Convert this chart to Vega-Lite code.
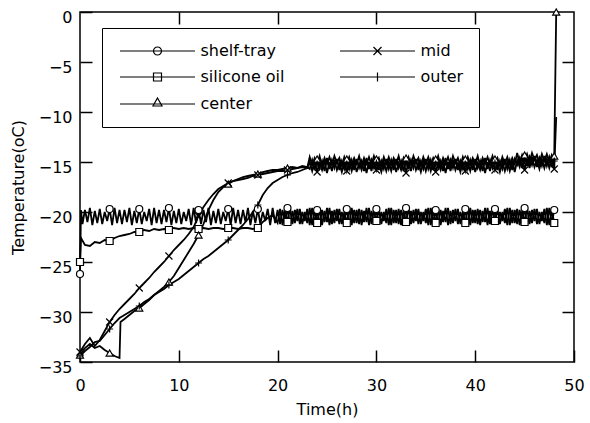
{
"$schema": "https://vega.github.io/schema/vega-lite/v6.json",
"width": 494, "height": 350,
"autosize": "none",
"padding": {"left": 80, "top": 12, "right": 16, "bottom": 61},
"background": "white",
"config": {
  "view": {"stroke": "black", "strokeWidth": 1.5},
  "font": "DejaVu Sans",
  "axis": {"labelFont": "DejaVu Sans", "labelFontSize": 16, "labelColor": "black", "titleFont": "DejaVu Sans", "titleFontSize": 16, "titleFontWeight": "normal", "titleColor": "black", "tickColor": "black", "tickWidth": 1.5, "domain": false, "grid": false, "labelFlush": false, "labelOverlap": false}
},
"data": {"values": [
{"t":0,"shelf-tray":-26.2,"silicone oil":-25.0,"center":-34.3,"mid":-34.0,"outer":-34.4},
{"t":0.1,"shelf-tray":-19.8,"silicone oil":-22.6},
{"t":0.25,"shelf-tray":-21.2},
{"t":0.5,"shelf-tray":-19.8,"silicone oil":-23.3,"center":-33.6,"mid":-33.2,"outer":-33.9},
{"t":0.75,"shelf-tray":-21.0},
{"t":1,"shelf-tray":-19.6,"silicone oil":-23.4,"center":-33.2,"mid":-32.6,"outer":-33.5},
{"t":1.25,"shelf-tray":-21.3},
{"t":1.5,"shelf-tray":-19.9,"silicone oil":-23.0,"center":-33.6,"mid":-33.4,"outer":-33.0},
{"t":1.75,"shelf-tray":-21.1},
{"t":2,"shelf-tray":-19.7,"silicone oil":-23.1,"center":-33.4,"mid":-32.8,"outer":-32.9},
{"t":2.25,"shelf-tray":-21.2},
{"t":2.5,"shelf-tray":-20.0,"silicone oil":-22.8,"center":-33.8,"mid":-31.9,"outer":-32.3},
{"t":2.75,"shelf-tray":-20.9},
{"t":3,"shelf-tray":-19.7,"silicone oil":-22.9,"center":-34.1,"mid":-31.0,"outer":-31.7},
{"t":3.25,"shelf-tray":-21.3},
{"t":3.5,"shelf-tray":-19.6,"silicone oil":-22.6,"center":-34.4,"mid":-30.3,"outer":-31.1},
{"t":3.75,"shelf-tray":-21.1},
{"t":4,"shelf-tray":-19.8,"silicone oil":-22.4,"center":-34.6,"mid":-29.7,"outer":-30.6},
{"t":4.1,"center":-31.0},
{"t":4.25,"shelf-tray":-21.2},
{"t":4.5,"shelf-tray":-19.8,"silicone oil":-22.3,"center":-30.7,"mid":-29.2,"outer":-30.3},
{"t":4.75,"shelf-tray":-21.0},
{"t":5,"shelf-tray":-19.6,"silicone oil":-22.2,"center":-30.3,"mid":-28.7,"outer":-30.0},
{"t":5.25,"shelf-tray":-21.3},
{"t":5.5,"shelf-tray":-19.9,"silicone oil":-22.0,"center":-29.9,"mid":-28.2,"outer":-29.7},
{"t":5.75,"shelf-tray":-21.1},
{"t":6,"shelf-tray":-19.7,"silicone oil":-22.0,"center":-29.6,"mid":-27.6,"outer":-29.4},
{"t":6.25,"shelf-tray":-21.2},
{"t":6.5,"shelf-tray":-20.0,"silicone oil":-21.8,"center":-29.2,"mid":-27.1,"outer":-29.0},
{"t":6.75,"shelf-tray":-20.9},
{"t":7,"shelf-tray":-19.7,"silicone oil":-21.9,"center":-28.8,"mid":-26.6,"outer":-28.7},
{"t":7.25,"shelf-tray":-21.3},
{"t":7.5,"shelf-tray":-19.6,"silicone oil":-21.7,"center":-28.3,"mid":-26.0,"outer":-28.3},
{"t":7.75,"shelf-tray":-21.1},
{"t":8,"shelf-tray":-19.8,"silicone oil":-21.8,"center":-27.9,"mid":-25.5,"outer":-28.0},
{"t":8.25,"shelf-tray":-21.2},
{"t":8.5,"shelf-tray":-19.8,"silicone oil":-21.7,"center":-27.5,"mid":-25.0,"outer":-27.7},
{"t":8.75,"shelf-tray":-21.0},
{"t":9,"shelf-tray":-19.6,"silicone oil":-21.8,"center":-27.0,"mid":-24.4,"outer":-27.3},
{"t":9.25,"shelf-tray":-21.3},
{"t":9.5,"shelf-tray":-19.9,"silicone oil":-21.6,"center":-26.4,"mid":-23.8,"outer":-27.0},
{"t":9.75,"shelf-tray":-21.1},
{"t":10,"shelf-tray":-19.7,"silicone oil":-21.7,"center":-25.6,"mid":-23.3,"outer":-26.7},
{"t":10.25,"shelf-tray":-21.2},
{"t":10.5,"shelf-tray":-20.0,"silicone oil":-21.6,"center":-24.8,"mid":-22.8,"outer":-26.3},
{"t":10.75,"shelf-tray":-20.9},
{"t":11,"shelf-tray":-19.7,"silicone oil":-21.7,"center":-24.0,"mid":-22.2,"outer":-25.9},
{"t":11.25,"shelf-tray":-21.3},
{"t":11.5,"shelf-tray":-19.6,"silicone oil":-21.6,"center":-23.2,"mid":-21.5,"outer":-25.5},
{"t":11.75,"shelf-tray":-21.1},
{"t":12,"shelf-tray":-19.8,"silicone oil":-21.7,"center":-22.3,"mid":-20.4,"outer":-25.1},
{"t":12.25,"shelf-tray":-21.2},
{"t":12.5,"shelf-tray":-19.8,"silicone oil":-21.6,"center":-21.2,"mid":-19.5,"outer":-24.7},
{"t":12.75,"shelf-tray":-21.0},
{"t":13,"shelf-tray":-19.6,"silicone oil":-21.7,"center":-19.8,"mid":-18.8,"outer":-24.4},
{"t":13.25,"shelf-tray":-21.3},
{"t":13.5,"shelf-tray":-19.9,"silicone oil":-21.6,"center":-18.8,"mid":-18.2,"outer":-24.0},
{"t":13.75,"shelf-tray":-21.1},
{"t":14,"shelf-tray":-19.7,"silicone oil":-21.6,"center":-18.0,"mid":-17.7,"outer":-23.6},
{"t":14.25,"shelf-tray":-21.2},
{"t":14.5,"shelf-tray":-20.0,"silicone oil":-21.7,"center":-17.5,"mid":-17.4,"outer":-23.2},
{"t":14.75,"shelf-tray":-20.9},
{"t":15,"shelf-tray":-19.7,"silicone oil":-21.6,"center":-17.2,"mid":-17.1,"outer":-22.8},
{"t":15.25,"shelf-tray":-21.3},
{"t":15.5,"shelf-tray":-19.6,"silicone oil":-21.6,"center":-16.9,"mid":-16.9,"outer":-22.3},
{"t":15.75,"shelf-tray":-21.1},
{"t":16,"shelf-tray":-19.8,"silicone oil":-21.7,"center":-16.7,"mid":-16.8,"outer":-21.8},
{"t":16.25,"shelf-tray":-21.2},
{"t":16.5,"shelf-tray":-19.8,"silicone oil":-21.6,"center":-16.5,"mid":-16.7,"outer":-21.3},
{"t":16.75,"shelf-tray":-21.0},
{"t":17,"shelf-tray":-19.6,"silicone oil":-21.6,"center":-16.4,"mid":-16.6,"outer":-20.7},
{"t":17.25,"shelf-tray":-21.3},
{"t":17.5,"shelf-tray":-19.9,"silicone oil":-21.7,"center":-16.3,"mid":-16.4,"outer":-20.0},
{"t":17.75,"shelf-tray":-21.1},
{"t":18,"shelf-tray":-19.7,"silicone oil":-21.6,"center":-16.2,"mid":-16.3,"outer":-19.3},
{"t":18.25,"shelf-tray":-21.2},
{"t":18.5,"shelf-tray":-20.0,"silicone oil":-21.0,"center":-16.0,"mid":-16.2,"outer":-18.3},
{"t":18.75,"shelf-tray":-20.9},
{"t":19,"shelf-tray":-19.7,"silicone oil":-20.6,"center":-15.9,"mid":-16.1,"outer":-17.6},
{"t":19.25,"shelf-tray":-21.3},
{"t":19.5,"shelf-tray":-19.6,"silicone oil":-20.3,"center":-15.8,"mid":-16.0,"outer":-17.1},
{"t":19.75,"shelf-tray":-21.1},
{"t":20,"shelf-tray":-19.8,"silicone oil":-21.1,"center":-15.8,"mid":-15.9,"outer":-16.8},
{"t":20.25,"shelf-tray":-21.2,"silicone oil":-19.7},
{"t":20.5,"shelf-tray":-19.8,"silicone oil":-21.3,"center":-15.7,"mid":-15.9,"outer":-16.5},
{"t":20.75,"shelf-tray":-21.0,"silicone oil":-19.9},
{"t":21,"shelf-tray":-19.6,"silicone oil":-21.0,"center":-15.6,"mid":-15.8,"outer":-16.3},
{"t":21.25,"shelf-tray":-21.3,"silicone oil":-19.6},
{"t":21.5,"shelf-tray":-19.9,"silicone oil":-21.2,"center":-15.5,"mid":-15.7,"outer":-16.1},
{"t":21.75,"shelf-tray":-21.1,"silicone oil":-19.8},
{"t":22,"shelf-tray":-19.7,"silicone oil":-20.9,"center":-15.6,"mid":-15.6,"outer":-16.0},
{"t":22.25,"shelf-tray":-21.2,"silicone oil":-19.7},
{"t":22.5,"shelf-tray":-20.0,"silicone oil":-21.2,"center":-15.4,"mid":-15.5,"outer":-15.8},
{"t":22.75,"shelf-tray":-20.9,"silicone oil":-20.0},
{"t":23,"shelf-tray":-19.7,"silicone oil":-21.1,"center":-15.5,"mid":-15.6,"outer":-15.6},
{"t":23.25,"shelf-tray":-21.3,"silicone oil":-19.6,"center":-15.7,"mid":-15.0,"outer":-14.5},
{"t":23.5,"shelf-tray":-19.6,"silicone oil":-21.3,"center":-14.8,"mid":-15.9,"outer":-15.3},
{"t":23.75,"shelf-tray":-21.1,"silicone oil":-19.8,"center":-15.8,"mid":-14.9,"outer":-14.6},
{"t":24,"shelf-tray":-19.8,"silicone oil":-21.1,"center":-14.7,"mid":-16.0,"outer":-15.2},
{"t":24.25,"shelf-tray":-21.2,"silicone oil":-19.7,"center":-15.6,"mid":-15.1,"outer":-14.4},
{"t":24.5,"shelf-tray":-19.8,"silicone oil":-21.3,"center":-14.9,"mid":-15.8,"outer":-15.4},
{"t":24.75,"shelf-tray":-21.0,"silicone oil":-19.9,"center":-15.9,"mid":-14.9,"outer":-14.6},
{"t":25,"shelf-tray":-19.6,"silicone oil":-21.0,"center":-14.6,"mid":-16.1,"outer":-15.2},
{"t":25.25,"shelf-tray":-21.3,"silicone oil":-19.6,"center":-15.7,"mid":-15.0,"outer":-14.5},
{"t":25.5,"shelf-tray":-19.9,"silicone oil":-21.2,"center":-14.8,"mid":-15.9,"outer":-15.3},
{"t":25.75,"shelf-tray":-21.1,"silicone oil":-19.8,"center":-15.6,"mid":-14.8,"outer":-14.4},
{"t":26,"shelf-tray":-19.7,"silicone oil":-20.9,"center":-14.7,"mid":-15.8,"outer":-15.1},
{"t":26.25,"shelf-tray":-21.2,"silicone oil":-19.7,"center":-15.8,"mid":-15.1,"outer":-14.6},
{"t":26.5,"shelf-tray":-20.0,"silicone oil":-21.2,"center":-14.9,"mid":-16.0,"outer":-15.4},
{"t":26.75,"shelf-tray":-20.9,"silicone oil":-20.0,"center":-15.7,"mid":-15.0,"outer":-14.5},
{"t":27,"shelf-tray":-19.7,"silicone oil":-21.1,"center":-14.7,"mid":-15.9,"outer":-15.2},
{"t":27.25,"shelf-tray":-21.3,"silicone oil":-19.6,"center":-15.7,"mid":-15.0,"outer":-14.5},
{"t":27.5,"shelf-tray":-19.6,"silicone oil":-21.3,"center":-14.8,"mid":-15.9,"outer":-15.3},
{"t":27.75,"shelf-tray":-21.1,"silicone oil":-19.8,"center":-15.8,"mid":-14.9,"outer":-14.6},
{"t":28,"shelf-tray":-19.8,"silicone oil":-21.1,"center":-14.7,"mid":-16.0,"outer":-15.2},
{"t":28.25,"shelf-tray":-21.2,"silicone oil":-19.7,"center":-15.6,"mid":-15.1,"outer":-14.4},
{"t":28.5,"shelf-tray":-19.8,"silicone oil":-21.3,"center":-14.9,"mid":-15.8,"outer":-15.4},
{"t":28.75,"shelf-tray":-21.0,"silicone oil":-19.9,"center":-15.9,"mid":-14.9,"outer":-14.6},
{"t":29,"shelf-tray":-19.6,"silicone oil":-21.0,"center":-14.6,"mid":-16.1,"outer":-15.2},
{"t":29.25,"shelf-tray":-21.3,"silicone oil":-19.6,"center":-15.7,"mid":-15.0,"outer":-14.5},
{"t":29.5,"shelf-tray":-19.9,"silicone oil":-21.2,"center":-14.8,"mid":-15.9,"outer":-15.3},
{"t":29.75,"shelf-tray":-21.1,"silicone oil":-19.8,"center":-15.6,"mid":-14.8,"outer":-14.4},
{"t":30,"shelf-tray":-19.7,"silicone oil":-20.9,"center":-14.7,"mid":-15.8,"outer":-15.1},
{"t":30.25,"shelf-tray":-21.2,"silicone oil":-19.7,"center":-15.8,"mid":-15.1,"outer":-14.6},
{"t":30.5,"shelf-tray":-20.0,"silicone oil":-21.2,"center":-14.9,"mid":-16.0,"outer":-15.4},
{"t":30.75,"shelf-tray":-20.9,"silicone oil":-20.0,"center":-15.7,"mid":-15.0,"outer":-14.5},
{"t":31,"shelf-tray":-19.7,"silicone oil":-21.1,"center":-14.7,"mid":-15.9,"outer":-15.2},
{"t":31.25,"shelf-tray":-21.3,"silicone oil":-19.6,"center":-15.7,"mid":-15.0,"outer":-14.5},
{"t":31.5,"shelf-tray":-19.6,"silicone oil":-21.3,"center":-14.8,"mid":-15.9,"outer":-15.3},
{"t":31.75,"shelf-tray":-21.1,"silicone oil":-19.8,"center":-15.8,"mid":-14.9,"outer":-14.6},
{"t":32,"shelf-tray":-19.8,"silicone oil":-21.1,"center":-14.7,"mid":-16.0,"outer":-15.2},
{"t":32.25,"shelf-tray":-21.2,"silicone oil":-19.7,"center":-15.6,"mid":-15.1,"outer":-14.4},
{"t":32.5,"shelf-tray":-19.8,"silicone oil":-21.3,"center":-14.9,"mid":-15.8,"outer":-15.4},
{"t":32.75,"shelf-tray":-21.0,"silicone oil":-19.9,"center":-15.9,"mid":-14.9,"outer":-14.6},
{"t":33,"shelf-tray":-19.6,"silicone oil":-21.0,"center":-14.6,"mid":-16.1,"outer":-15.2},
{"t":33.25,"shelf-tray":-21.3,"silicone oil":-19.6,"center":-15.7,"mid":-15.0,"outer":-14.5},
{"t":33.5,"shelf-tray":-19.9,"silicone oil":-21.2,"center":-14.8,"mid":-15.9,"outer":-15.3},
{"t":33.75,"shelf-tray":-21.1,"silicone oil":-19.8,"center":-15.6,"mid":-14.8,"outer":-14.4},
{"t":34,"shelf-tray":-19.7,"silicone oil":-20.9,"center":-14.7,"mid":-15.8,"outer":-15.1},
{"t":34.25,"shelf-tray":-21.2,"silicone oil":-19.7,"center":-15.8,"mid":-15.1,"outer":-14.6},
{"t":34.5,"shelf-tray":-20.0,"silicone oil":-21.2,"center":-14.9,"mid":-16.0,"outer":-15.4},
{"t":34.75,"shelf-tray":-20.9,"silicone oil":-20.0,"center":-15.7,"mid":-15.0,"outer":-14.5},
{"t":35,"shelf-tray":-19.7,"silicone oil":-21.1,"center":-14.7,"mid":-15.9,"outer":-15.2},
{"t":35.25,"shelf-tray":-21.3,"silicone oil":-19.6,"center":-15.7,"mid":-15.0,"outer":-14.5},
{"t":35.5,"shelf-tray":-19.6,"silicone oil":-21.3,"center":-14.8,"mid":-15.9,"outer":-15.3},
{"t":35.75,"shelf-tray":-21.1,"silicone oil":-19.8,"center":-15.8,"mid":-14.9,"outer":-14.6},
{"t":36,"shelf-tray":-19.8,"silicone oil":-21.1,"center":-14.7,"mid":-16.0,"outer":-15.2},
{"t":36.25,"shelf-tray":-21.2,"silicone oil":-19.7,"center":-15.6,"mid":-15.1,"outer":-14.4},
{"t":36.5,"shelf-tray":-19.8,"silicone oil":-21.3,"center":-14.9,"mid":-15.8,"outer":-15.4},
{"t":36.75,"shelf-tray":-21.0,"silicone oil":-19.9,"center":-15.9,"mid":-14.9,"outer":-14.6},
{"t":37,"shelf-tray":-19.6,"silicone oil":-21.0,"center":-14.6,"mid":-16.1,"outer":-15.2},
{"t":37.25,"shelf-tray":-21.3,"silicone oil":-19.6,"center":-15.7,"mid":-15.0,"outer":-14.5},
{"t":37.5,"shelf-tray":-19.9,"silicone oil":-21.2,"center":-14.8,"mid":-15.9,"outer":-15.3},
{"t":37.75,"shelf-tray":-21.1,"silicone oil":-19.8,"center":-15.6,"mid":-14.8,"outer":-14.4},
{"t":38,"shelf-tray":-19.7,"silicone oil":-20.9,"center":-14.7,"mid":-15.8,"outer":-15.1},
{"t":38.25,"shelf-tray":-21.2,"silicone oil":-19.7,"center":-15.8,"mid":-15.1,"outer":-14.6},
{"t":38.5,"shelf-tray":-20.0,"silicone oil":-21.2,"center":-14.9,"mid":-16.0,"outer":-15.4},
{"t":38.75,"shelf-tray":-20.9,"silicone oil":-20.0,"center":-15.7,"mid":-15.0,"outer":-14.5},
{"t":39,"shelf-tray":-19.7,"silicone oil":-21.1,"center":-14.7,"mid":-15.9,"outer":-15.2},
{"t":39.25,"shelf-tray":-21.3,"silicone oil":-19.6,"center":-15.7,"mid":-15.0,"outer":-14.5},
{"t":39.5,"shelf-tray":-19.6,"silicone oil":-21.3,"center":-14.8,"mid":-15.9,"outer":-15.3},
{"t":39.75,"shelf-tray":-21.1,"silicone oil":-19.8,"center":-15.8,"mid":-14.9,"outer":-14.6},
{"t":40,"shelf-tray":-19.8,"silicone oil":-21.1,"center":-14.7,"mid":-16.0,"outer":-15.2},
{"t":40.25,"shelf-tray":-21.2,"silicone oil":-19.7,"center":-15.6,"mid":-15.1,"outer":-14.4},
{"t":40.5,"shelf-tray":-19.8,"silicone oil":-21.3,"center":-14.9,"mid":-15.8,"outer":-15.4},
{"t":40.75,"shelf-tray":-21.0,"silicone oil":-19.9,"center":-15.9,"mid":-14.9,"outer":-14.6},
{"t":41,"shelf-tray":-19.6,"silicone oil":-21.0,"center":-14.6,"mid":-16.1,"outer":-15.2},
{"t":41.25,"shelf-tray":-21.3,"silicone oil":-19.6,"center":-15.7,"mid":-15.0,"outer":-14.5},
{"t":41.5,"shelf-tray":-19.9,"silicone oil":-21.2,"center":-14.8,"mid":-15.9,"outer":-15.3},
{"t":41.75,"shelf-tray":-21.1,"silicone oil":-19.8,"center":-15.6,"mid":-14.8,"outer":-14.4},
{"t":42,"shelf-tray":-19.7,"silicone oil":-20.9,"center":-14.7,"mid":-15.8,"outer":-15.1},
{"t":42.25,"shelf-tray":-21.2,"silicone oil":-19.7,"center":-15.8,"mid":-15.1,"outer":-14.6},
{"t":42.5,"shelf-tray":-20.0,"silicone oil":-21.2,"center":-14.9,"mid":-16.0,"outer":-15.4},
{"t":42.75,"shelf-tray":-20.9,"silicone oil":-20.0,"center":-15.7,"mid":-15.0,"outer":-14.5},
{"t":43,"shelf-tray":-19.7,"silicone oil":-21.1,"center":-14.7,"mid":-15.9,"outer":-15.2},
{"t":43.25,"shelf-tray":-21.3,"silicone oil":-19.6,"center":-15.7,"mid":-15.0,"outer":-14.5},
{"t":43.5,"shelf-tray":-19.6,"silicone oil":-21.3,"center":-14.8,"mid":-15.9,"outer":-15.3},
{"t":43.75,"shelf-tray":-21.1,"silicone oil":-19.8,"center":-15.8,"mid":-14.9,"outer":-14.6},
{"t":44,"shelf-tray":-19.8,"silicone oil":-21.1,"center":-14.7,"mid":-16.0,"outer":-15.2},
{"t":44.25,"shelf-tray":-21.2,"silicone oil":-19.7,"center":-15.3,"mid":-14.8,"outer":-14.1},
{"t":44.5,"shelf-tray":-19.8,"silicone oil":-21.3,"center":-14.6,"mid":-15.5,"outer":-15.1},
{"t":44.75,"shelf-tray":-21.0,"silicone oil":-19.9,"center":-15.6,"mid":-14.6,"outer":-14.3},
{"t":45,"shelf-tray":-19.6,"silicone oil":-21.0,"center":-14.3,"mid":-15.8,"outer":-14.9},
{"t":45.25,"shelf-tray":-21.3,"silicone oil":-19.6,"center":-15.4,"mid":-14.7,"outer":-14.2},
{"t":45.5,"shelf-tray":-19.9,"silicone oil":-21.2,"center":-14.5,"mid":-15.6,"outer":-15.0},
{"t":45.75,"shelf-tray":-21.1,"silicone oil":-19.8,"center":-15.3,"mid":-14.5,"outer":-14.1},
{"t":46,"shelf-tray":-19.7,"silicone oil":-20.9,"center":-14.4,"mid":-15.5,"outer":-14.8},
{"t":46.25,"shelf-tray":-21.2,"silicone oil":-19.7,"center":-15.5,"mid":-14.8,"outer":-14.3},
{"t":46.5,"shelf-tray":-20.0,"silicone oil":-21.2,"center":-14.6,"mid":-15.7,"outer":-15.1},
{"t":46.75,"shelf-tray":-20.9,"silicone oil":-20.0,"center":-15.4,"mid":-14.7,"outer":-14.2},
{"t":47,"shelf-tray":-19.7,"silicone oil":-21.1,"center":-14.4,"mid":-15.6,"outer":-14.9},
{"t":47.25,"shelf-tray":-21.3,"silicone oil":-19.6,"center":-15.4,"mid":-14.7,"outer":-14.2},
{"t":47.5,"shelf-tray":-19.6,"silicone oil":-21.3,"center":-14.5,"mid":-15.6,"outer":-15.0},
{"t":47.75,"shelf-tray":-21.1,"silicone oil":-19.8,"center":-15.5,"mid":-14.6,"outer":-14.3},
{"t":48,"shelf-tray":-19.8,"silicone oil":-21.1,"center":-14.4,"mid":-15.7,"outer":-14.9},
{"t":48.2,"center":0,"mid":-10.5}
]},
"transform": [
  {"fold": ["shelf-tray", "silicone oil", "center", "mid", "outer"], "as": ["series", "value"]},
  {"filter": "isValid(datum.value)"}
],
"layer": [
  {
    "mark": {"type": "line", "color": "black", "strokeWidth": 1.8, "invalid": "filter"},
    "encoding": {
      "x": {"field": "t", "type": "quantitative", "scale": {"domain": [0, 50], "nice": false, "zero": false},
            "axis": {"orient": "bottom", "values": [0, 10, 20, 30, 40, 50], "tickSize": -12, "labelPadding": 27, "title": "Time(h)", "titlePadding": 8}},
      "y": {"field": "value", "type": "quantitative", "scale": {"domain": [-35, 0], "nice": false, "zero": false},
            "axis": {"orient": "left", "values": [-35, -30, -25, -20, -15, -10, -5, 0], "tickSize": -12, "labelPadding": 20, "labelOffset": 5, "title": "Temperature(oC)", "titlePadding": 12}},
      "detail": {"field": "series", "type": "nominal"}
    }
  },
  {
    "transform": [{"filter": "datum.t % 3 == 0 || datum.value == 0"}],
    "mark": {"type": "point", "filled": true, "fill": "white", "stroke": "black", "strokeWidth": 1.2, "size": 49, "opacity": 1},
    "encoding": {
      "x": {"field": "t", "type": "quantitative", "axis": {"orient": "top", "values": [10, 20, 30, 40], "tickSize": -12, "labels": false, "title": null}},
      "y": {"field": "value", "type": "quantitative", "axis": {"orient": "right", "values": [-30, -25, -20, -15, -10, -5], "tickSize": -12, "labels": false, "title": null}},
      "shape": {"field": "series", "type": "nominal",
        "scale": {"domain": ["shelf-tray", "silicone oil", "center", "mid", "outer"], "range": ["circle", "square", "triangle-up", "M-1,-1L1,1M-1,1L1,-1", "M-1,0H1M0,-1V1"]},
        "legend": null}
    }
  },
  {
    "transform": [{"filter": "datum.t == 0"}],
    "mark": {"type": "point", "opacity": 0, "stroke": "black"},
    "encoding": {
      "shape": {"field": "series", "type": "nominal",
        "scale": {"domain": ["shelf-tray", "silicone oil", "center", "mid", "outer"],
                  "range": ["M-7.5,0H7.5M-0.8,0A0.8,0.8 0 1,0 0.8,0A0.8,0.8 0 1,0 -0.8,0Z", "M-7.5,0H7.5M-0.8,-0.8H0.8V0.8H-0.8Z", "M-7.5,0H7.5M0,-1.2L0.9,0.4H-0.9Z", "M-7.5,0H7.5M-0.8,-0.8L0.8,0.8M-0.8,0.8L0.8,-0.8", "M-7.5,0H7.5M0,-0.9V0.9"]},
        "legend": {"orient": "none", "legendX": 22, "legendY": 16, "direction": "vertical", "columns": 2, "title": null,
                   "strokeColor": "black", "padding": 15, "symbolSize": 100, "symbolStrokeColor": "black", "symbolFillColor": "white",
                   "symbolStrokeWidth": 1.2, "symbolOpacity": 1, "symbolOffset": 32.5, "labelOffset": 35, "columnPadding": 52, "rowPadding": 10,
                   "labelFont": "DejaVu Sans", "labelFontSize": 16, "labelColor": "black"}
      }
    }
  }
],
"resolve": {"scale": {"shape": "independent"}, "axis": {"x": "independent", "y": "independent"}}
}
